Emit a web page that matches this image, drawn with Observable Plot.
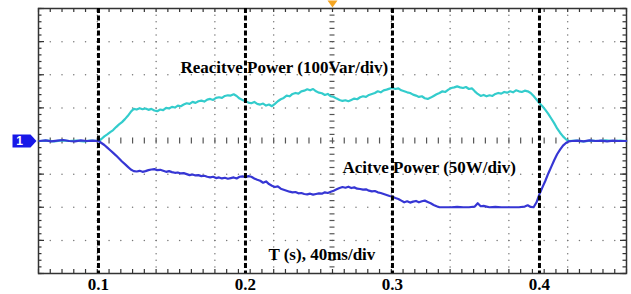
<!DOCTYPE html>
<html><head><meta charset="utf-8">
<script src="https://cdn.jsdelivr.net/npm/d3@7"></script>
<script src="https://cdn.jsdelivr.net/npm/@observablehq/plot@0.6"></script>
<style>
html,body{margin:0;padding:0;background:#fff;}
#chart svg{display:block;background:linear-gradient(to right,#e6e6e6 0,#e6e6e6 36px,#fff 36px);}
</style></head><body><div id="chart"></div>
<script>
// time axis (s), 40 ms/div, 10 divisions; vertical: 8 divisions
const xDomain = [0.0592, 0.4592];
const yDomain = [-4, 4];
const xTicks = [0.1, 0.2, 0.3, 0.4];
const xTickLabels = ["0.1", "0.2", "0.3", "0.4"];

// Reactive power trace (divisions, 100 Var/div)
const reactiveT = [0.060,0.065,0.070,0.075,0.080,0.085,0.090,0.095,0.100,
0.102,0.104,0.106,0.108,0.110,0.112,0.114,0.116,0.118,0.120,0.122,0.124,0.126,0.128,0.130,0.132,0.134,0.136,0.138,0.140,
0.142,0.144,0.146,0.148,0.150,0.152,0.154,0.156,0.158,0.160,0.162,0.164,0.166,0.168,0.170,0.172,0.174,0.176,0.178,0.180,
0.182,0.184,0.186,0.188,0.190,0.192,0.194,0.196,0.198,0.200,0.202,0.204,0.206,0.208,0.210,0.212,0.214,0.216,0.218,0.220,
0.222,0.224,0.226,0.228,0.230,0.232,0.234,0.236,0.238,0.240,0.242,0.244,0.246,0.248,0.250,0.252,0.254,0.256,0.258,0.260,
0.262,0.264,0.266,0.268,0.270,0.272,0.274,0.276,0.278,0.280,0.282,0.284,0.286,0.288,0.290,0.292,0.294,0.296,0.298,0.300,
0.302,0.304,0.306,0.308,0.310,0.312,0.314,0.316,0.318,0.320,0.322,0.324,0.326,0.328,0.330,0.332,0.334,0.336,0.338,0.340,
0.342,0.344,0.346,0.348,0.350,0.352,0.354,0.356,0.358,0.360,0.362,0.364,0.366,0.368,0.370,0.372,0.374,0.376,0.378,0.380,
0.382,0.384,0.386,0.388,0.390,0.392,0.394,0.396,0.398,0.400,0.402,0.404,0.406,0.408,0.410,0.412,0.414,0.416,0.418,0.420,
0.425,0.430,0.435,0.440,0.445,0.450,0.455,0.459];
const reactiveV = [0,0.01,-0.01,0.02,0,0.01,-0.01,0.01,0,
0.06,0.14,0.2,0.27,0.33,0.42,0.5,0.57,0.66,0.76,0.88,0.97,0.95,0.99,0.96,0.98,0.94,0.97,0.92,0.90,
0.95,0.93,1.0,0.98,1.03,1.01,1.07,1.05,1.1,1.14,1.12,1.18,1.15,1.2,1.22,1.19,1.25,1.27,1.24,1.3,
1.32,1.3,1.36,1.38,1.37,1.41,1.36,1.28,1.24,1.2,1.16,1.14,1.18,1.12,1.1,1.13,1.07,1.1,1.05,1.12,
1.2,1.26,1.3,1.37,1.35,1.42,1.45,1.43,1.5,1.52,1.56,1.53,1.57,1.5,1.46,1.44,1.39,1.42,1.35,1.33,
1.28,1.24,1.21,1.23,1.2,1.24,1.28,1.26,1.32,1.35,1.33,1.39,1.42,1.45,1.5,1.47,1.53,1.55,1.58,1.6,
1.57,1.59,1.53,1.5,1.47,1.45,1.4,1.37,1.33,1.35,1.29,1.27,1.31,1.36,1.41,1.45,1.5,1.48,1.55,1.6,
1.62,1.65,1.62,1.6,1.63,1.57,1.59,1.5,1.42,1.36,1.39,1.35,1.38,1.36,1.42,1.45,1.43,1.48,1.46,1.5,
1.47,1.53,1.5,1.48,1.52,1.5,1.45,1.36,1.25,1.14,1.05,0.94,0.82,0.68,0.54,0.38,0.25,0.14,0.05,0,
0.01,-0.01,0.01,0,0.02,0,0.01,0];

// Active power trace (divisions, 50 W/div)
const activeT = [0.060,0.064,0.068,0.072,0.076,0.080,0.084,0.088,0.092,0.096,0.100,
0.102,0.104,0.106,0.108,0.110,0.112,0.114,0.116,0.118,0.120,0.122,0.124,0.126,0.128,0.130,0.132,0.134,0.136,0.138,0.140,
0.142,0.144,0.146,0.148,0.150,0.152,0.154,0.156,0.158,0.160,0.162,0.164,0.166,0.168,0.170,0.172,0.174,0.176,0.178,0.180,
0.182,0.184,0.186,0.188,0.190,0.192,0.194,0.196,0.198,0.200,0.202,0.204,0.206,0.208,0.210,0.212,0.214,0.216,0.218,0.220,
0.222,0.224,0.226,0.228,0.230,0.232,0.234,0.236,0.238,0.240,0.242,0.244,0.246,0.248,0.250,0.252,0.254,0.256,0.258,0.260,
0.262,0.264,0.266,0.268,0.270,0.272,0.274,0.276,0.278,0.280,0.282,0.284,0.286,0.288,0.290,0.292,0.294,0.296,0.298,0.300,
0.302,0.304,0.306,0.308,0.310,0.312,0.314,0.316,0.318,0.320,0.322,0.324,0.326,0.328,0.330,0.332,0.336,0.340,0.344,0.348,
0.352,0.356,0.358,0.360,0.362,0.364,0.366,0.370,0.374,0.378,0.382,0.386,0.390,0.392,0.394,0.396,0.398,0.400,0.402,0.404,
0.406,0.408,0.410,0.412,0.414,0.416,0.418,0.420,0.422,0.426,0.430,0.434,0.438,0.442,0.446,0.450,0.454,0.459];
const activeV = [0,0.02,-0.01,0.01,0.03,0,-0.01,0.02,0,0.01,0,
-0.06,-0.12,-0.2,-0.28,-0.36,-0.44,-0.53,-0.62,-0.7,-0.78,-0.86,-0.91,-0.92,-0.9,-0.93,-0.91,-0.88,-0.86,-0.85,-0.88,
-0.87,-0.9,-0.93,-0.91,-0.94,-0.96,-0.95,-0.98,-0.97,-1.0,-1.03,-1.01,-1.04,-1.03,-1.06,-1.05,-1.08,-1.1,-1.08,-1.12,
-1.1,-1.13,-1.11,-1.14,-1.12,-1.1,-1.13,-1.08,-1.07,-1.09,-1.06,-1.08,-1.13,-1.17,-1.2,-1.26,-1.22,-1.3,-1.35,-1.39,
-1.37,-1.44,-1.47,-1.5,-1.53,-1.55,-1.54,-1.58,-1.57,-1.6,-1.61,-1.59,-1.62,-1.6,-1.58,-1.59,-1.55,-1.57,-1.53,-1.5,
-1.46,-1.42,-1.39,-1.41,-1.38,-1.42,-1.4,-1.44,-1.45,-1.47,-1.46,-1.5,-1.52,-1.51,-1.55,-1.57,-1.6,-1.63,-1.66,-1.68,
-1.72,-1.75,-1.8,-1.85,-1.82,-1.86,-1.83,-1.81,-1.85,-1.82,-1.8,-1.84,-1.88,-1.93,-1.97,-2.0,-2.0,-2.0,-1.99,-2.0,
-2.0,-1.98,-1.88,-1.97,-1.96,-1.98,-2.0,-1.99,-2.0,-2.0,-2.0,-2.0,-1.98,-1.94,-1.99,-2.0,-1.85,-1.6,-1.4,-1.2,
-0.98,-0.78,-0.58,-0.4,-0.26,-0.14,-0.06,-0.01,0,0.01,-0.01,0.02,0,0.01,-0.01,0.01,0,0];

// annotation texts
const labelTexts = ["Reacitve Power (100Var/div)", "Acitve Power (50W/div)", "T (s), 40ms/div"];
const labelT = [0.1558, 0.2660, 0.2156];
const labelV = [2.22, -0.81, -3.44];
const channelLabel = "1";

const reactive = reactiveT.map((t, i) => ({t, v: reactiveV[i]}));
const active = activeT.map((t, i) => ({t, v: activeV[i]}));
const labels = labelTexts.map((s, i) => ({s, t: labelT[i], v: labelV[i]}));

const [x0, x1] = xDomain;
const divT = (x1 - x0) / 10;
const xc = x0 + 5 * divT;
const majorX = d3.range(11).map(i => x0 + i * divT);
const minorX = d3.range(51).map(i => x0 + i * divT / 5);
const majorY = d3.range(-4, 5);
const minorY = d3.range(41).map(i => -4 + i * 0.2);

const hDots = d3.cross(majorY.filter(y => y !== 0 && Math.abs(y) !== 4), minorX.slice(1, -1)).map(([y, x]) => ({x, y}));
const vDots = d3.cross(majorX.slice(1, -1).filter((x, i) => i !== 4), minorY.slice(1, -1)).map(([x, y]) => ({x, y}));

const pxT = divT / 58.8; // one pixel in time units
const pxV = 1 / 33;       // one pixel in divisions

const markerSymbol = {draw(ctx) {
  ctx.moveTo(-12, -6.5); ctx.lineTo(6, -6.5); ctx.lineTo(12, 0); ctx.lineTo(6, 6.5); ctx.lineTo(-12, 6.5); ctx.closePath();
}};
const trigSymbol = {draw(ctx) {
  ctx.moveTo(-5, -4); ctx.lineTo(5, -4); ctx.lineTo(0, 3); ctx.closePath();
}};

const serif = "'Liberation Serif', 'Times New Roman', serif";

const plot = Plot.plot({
  width: 631, height: 294,
  marginLeft: 38, marginRight: 5, marginTop: 8, marginBottom: 21,
  x: {domain: xDomain},
  y: {domain: yDomain, axis: null},
  style: {fontFamily: serif, fontWeight: "bold", fontSize: "17px", color: "#000", background: "transparent", overflow: "visible"},
  marks: [
    // grid dots
    Plot.dot(hDots, {x: "x", y: "y", r: 0.75, fill: "#777"}),
    Plot.dot(vDots, {x: "x", y: "y", r: 0.75, fill: "#777"}),
    // centre graticule ticks
    Plot.ruleX(minorX, {y1: -3 * pxV, y2: 3 * pxV, stroke: "#555", strokeWidth: 1.2}),
    Plot.ruleY(minorY, {x1: xc - 2.5 * pxT, x2: xc + 2.5 * pxT, stroke: "#555", strokeWidth: 1.2}),
    // border ticks
    Plot.ruleX(minorX, {y1: 4, y2: 4 - 4 * pxV, stroke: "#333", strokeWidth: 1.2}),
    Plot.ruleX(minorX, {y1: -4, y2: -4 + 4 * pxV, stroke: "#333", strokeWidth: 1.2}),
    Plot.ruleY(minorY, {x1: x0, x2: x0 + 3.5 * pxT, stroke: "#333", strokeWidth: 1.2}),
    Plot.ruleY(majorY, {x1: x0, x2: x0 + 6 * pxT, stroke: "#333", strokeWidth: 1.2}),
    Plot.ruleY(minorY, {x1: x1, x2: x1 - 3.5 * pxT, stroke: "#333", strokeWidth: 1.2}),
    Plot.ruleY(majorY, {x1: x1, x2: x1 - 6 * pxT, stroke: "#333", strokeWidth: 1.2}),
    Plot.frame({stroke: "#333", strokeWidth: 1.5}),
    // traces
    Plot.line(reactive, {x: "t", y: "v", stroke: "#33cccc", strokeWidth: 2.2}),
    Plot.line(active, {x: "t", y: "v", stroke: "#3636d4", strokeWidth: 2.2}),
    // dashed time markers
    Plot.ruleX(xTicks, {stroke: "#000", strokeWidth: 3, strokeDasharray: "5,2.5"}),
    // annotations
    Plot.text(labels, {x: "t", y: "v", text: "s", textAnchor: "start", fill: "#000", fontFamily: serif, fontWeight: "bold", fontSize: 17}),
    // channel marker and trigger marker
    Plot.dot([{x: x0, y: 0}], {x: "x", y: "y", dx: -14, symbol: markerSymbol, fill: "#1818e8", stroke: "none"}),
    Plot.text([{x: x0, y: 0, s: channelLabel}], {x: "x", y: "y", text: "s", dx: -19, fill: "#fff", fontFamily: "Arial, 'Liberation Sans', sans-serif", fontSize: 12, fontWeight: "bold"}),
    Plot.dot([{x: xc, y: 4}], {x: "x", y: "y", dy: -4, symbol: trigSymbol, fill: "#f5a623", stroke: "none"}),
    // x axis labels
    Plot.axisX(xTicks, {tickSize: 0, tickPadding: 4, tickFormat: (d, i) => xTickLabels[i], fontSize: 17, fontWeight: "bold", fontFamily: serif, fill: "#000"})
  ]
});
document.getElementById("chart").appendChild(plot);
</script></body></html>
